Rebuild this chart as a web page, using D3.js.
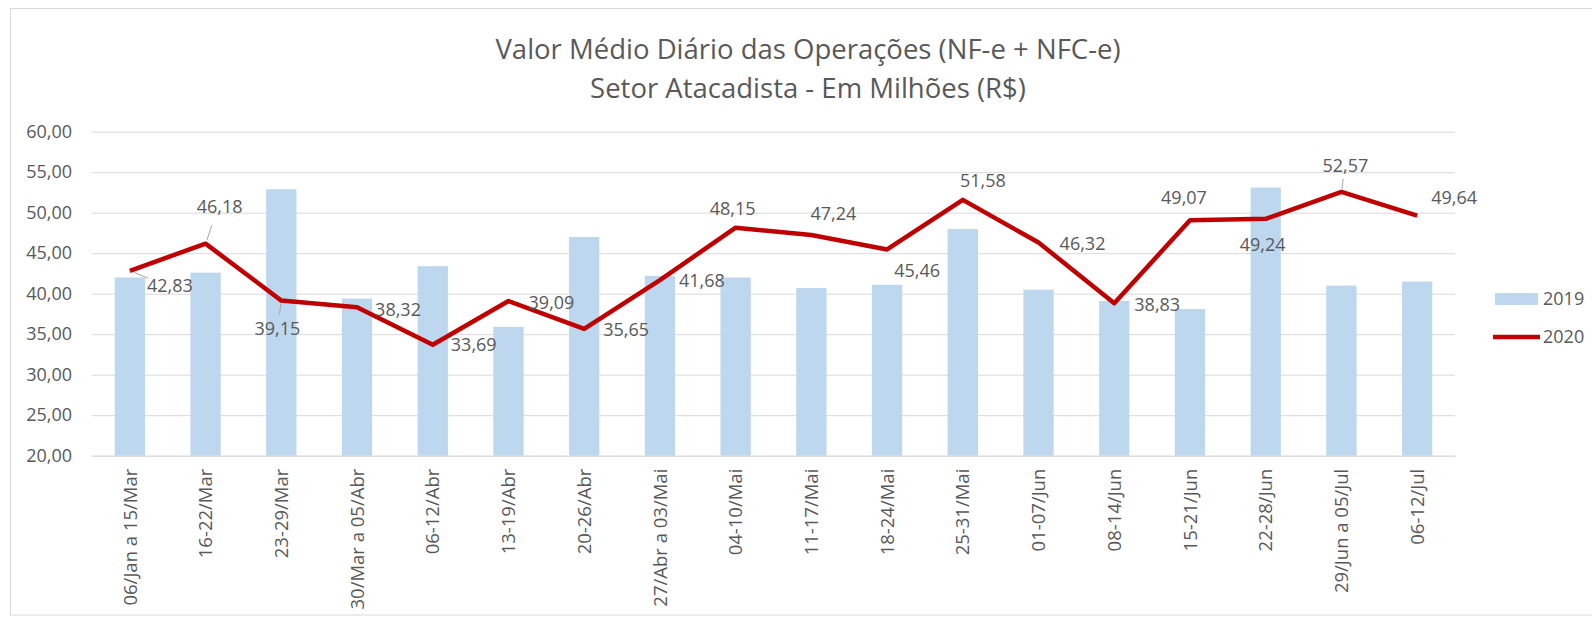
<!DOCTYPE html>
<html>
<head>
<meta charset="utf-8">
<script src="https://cdn.jsdelivr.net/npm/d3@7"></script>
<style>
    body { margin: 0; background: #fff; }
    #chart-area { width: 1592px; height: 620px; }
    text { font-family: "Open Sans", sans-serif; fill: #595959; }
</style>
</head>
<body>
<div id="chart-area"></div>
<script>

// Weekly periods (x axis)
const periods = ["06/Jan a 15/Mar", "16-22/Mar", "23-29/Mar", "30/Mar a 05/Abr", "06-12/Abr", "13-19/Abr",
    "20-26/Abr", "27/Abr a 03/Mai", "04-10/Mai", "11-17/Mai", "18-24/Mai", "25-31/Mai",
    "01-07/Jun", "08-14/Jun", "15-21/Jun", "22-28/Jun", "29/Jun a 05/Jul", "06-12/Jul"];

// 2019 bars (no labels in the original)
const values2019 = [42.0, 42.6, 52.9, 39.4, 43.4, 35.9, 47.0, 42.2, 42.0, 40.7, 41.1, 48.0,
    40.5, 39.1, 38.1, 53.1, 41.0, 41.5];

// 2020 line (labelled values)
const values2020 = [42.83, 46.18, 39.15, 38.32, 33.69, 39.09, 35.65, 41.68, 48.15, 47.24, 45.46, 51.58,
    46.32, 38.83, 49.07, 49.24, 52.57, 49.64];

const yTicks = [20, 25, 30, 35, 40, 45, 50, 55, 60];
const seriesNames = ["2019", "2020"];
const titleLines = ["Valor Médio Diário das Operações (NF-e + NFC-e)", "Setor Atacadista - Em Milhões (R$)"];

// where each 2020 label sits relative to its point, like the excel layout
const labelOffsets = [[40, 15], [14, -37], [-4, 28], [41, 2], [41, 0], [43, 2], [42, 1], [42, 1], [-3, -19],
    [22, -21], [30, 21], [20, -19], [44, 1], [43, 2], [-6, -23], [-3, 26], [4, -26], [37, -18]];
const leaderLines = [0, 1, 2, 16];

class WeeklyChart {

    constructor(_parentElement) {
        this.parentElement = _parentElement;
        this.initVis();
    }

    initVis() {
        let vis = this;

        vis.margin = {top: 131.7, right: 137, bottom: 164.3, left: 92};
        vis.width = 1592 - vis.margin.left - vis.margin.right;
        vis.height = 620 - vis.margin.top - vis.margin.bottom;

        vis.root = d3.select("#" + vis.parentElement).append("svg")
            .attr("width", 1592)
            .attr("height", 620);

        // outer frame
        vis.root.append("rect")
            .attr("x", 10.5).attr("y", 8.5)
            .attr("width", 1600).attr("height", 606.5)
            .attr("fill", "none")
            .attr("stroke", "#d9d9d9");

        vis.root.selectAll(".title")
            .data(titleLines)
            .enter().append("text")
            .attr("class", "title")
            .attr("x", 808)
            .attr("y", (d, i) => 59 + i * 39)
            .attr("text-anchor", "middle")
            .attr("font-size", 27.5)
            .text(d => d);

        vis.svg = vis.root.append("g")
            .attr("transform", "translate(" + vis.margin.left + "," + vis.margin.top + ")");

        vis.locale = d3.formatLocale({decimal: ",", thousands: ".", grouping: [3], currency: ["R$", ""]});
        vis.fmt = vis.locale.format(".2f");

        vis.x = d3.scaleBand()
            .domain(periods)
            .range([0, vis.width])
            .paddingInner(0.6)
            .paddingOuter(0.3);

        vis.y = d3.scaleLinear()
            .domain([20, 60])
            .range([vis.height, 0]);

        vis.updateVis();
    }

    updateVis() {
        let vis = this;

        // gridlines + y labels
        vis.yAxis = d3.axisLeft(vis.y)
            .tickValues(yTicks)
            .tickSize(-vis.width)
            .tickPadding(20)
            .tickFormat(vis.fmt);

        vis.svg.append("g")
            .attr("class", "y-axis axis")
            .call(vis.yAxis)
            .call(g => g.select(".domain").remove())
            .call(g => g.selectAll("line").attr("stroke", "#d9d9d9"))
            .call(g => g.selectAll("text").attr("font-size", 18).attr("fill", "#595959"));

        vis.svg.selectAll(".bar")
            .data(values2019)
            .enter().append("rect")
            .attr("class", "bar")
            .attr("x", (d, i) => vis.x(periods[i]))
            .attr("y", d => vis.y(d))
            .attr("width", vis.x.bandwidth())
            .attr("height", d => vis.height - vis.y(d))
            .attr("fill", "#bdd7ee");

        // x labels, rotated
        vis.xAxis = d3.axisBottom(vis.x).tickSize(0).tickPadding(0);
        vis.svg.append("g")
            .attr("class", "x-axis axis")
            .attr("transform", "translate(0," + vis.height + ")")
            .call(vis.xAxis)
            .call(g => g.select(".domain").attr("stroke", "#d9d9d9"))
            .call(g => g.selectAll("text")
                .attr("font-size", 18.5)
                .attr("fill", "#595959")
                .attr("text-anchor", "end")
                .attr("transform", "translate(0,13) rotate(-90)")
                .attr("x", 0).attr("y", 0)
                .attr("dy", "0.36em"));

        let cx = i => vis.x(periods[i]) + vis.x.bandwidth() / 2;

        let line = d3.line()
            .x((d, i) => cx(i))
            .y(d => vis.y(d))
            .curve(d3.curveLinear);

        vis.svg.append("path")
            .datum(values2020)
            .attr("class", "line")
            .attr("d", line)
            .attr("fill", "none")
            .attr("stroke", "#c00000")
            .attr("stroke-width", 4.5)
            .attr("stroke-linejoin", "round");

        // small grey leader lines from point towards label
        vis.svg.selectAll(".leader")
            .data(leaderLines)
            .enter().append("line")
            .attr("class", "leader")
            .attr("x1", i => cx(i) + labelOffsets[i][0] * 0.1)
            .attr("y1", i => vis.y(values2020[i]) + labelOffsets[i][1] * 0.1)
            .attr("x2", i => cx(i) + labelOffsets[i][0] * 0.45)
            .attr("y2", i => vis.y(values2020[i]) + labelOffsets[i][1] * 0.5)
            .attr("stroke", "#a6a6a6")
            .attr("stroke-width", 1);

        vis.svg.selectAll(".value-label")
            .data(values2020)
            .enter().append("text")
            .attr("class", "value-label")
            .attr("x", (d, i) => cx(i) + labelOffsets[i][0])
            .attr("y", (d, i) => vis.y(d) + labelOffsets[i][1])
            .attr("dy", "0.35em")
            .attr("text-anchor", "middle")
            .attr("font-size", 18)
            .text(d => vis.fmt(d));

        // legend
        let legend = vis.root.append("g")
            .attr("transform", "translate(1493,0)");

        legend.append("rect")
            .attr("x", 2).attr("y", 293)
            .attr("width", 43).attr("height", 12)
            .attr("fill", "#bdd7ee");

        legend.append("line")
            .attr("x1", 0).attr("x2", 47)
            .attr("y1", 337).attr("y2", 337)
            .attr("stroke", "#c00000")
            .attr("stroke-width", 4.5);

        legend.selectAll(".legend-label")
            .data(seriesNames)
            .enter().append("text")
            .attr("class", "legend-label")
            .attr("x", 50)
            .attr("y", (d, i) => 299 + i * 38)
            .attr("dy", "0.35em")
            .attr("font-size", 18)
            .text(d => d);
    }
}

new WeeklyChart("chart-area");

</script>
</body>
</html>
